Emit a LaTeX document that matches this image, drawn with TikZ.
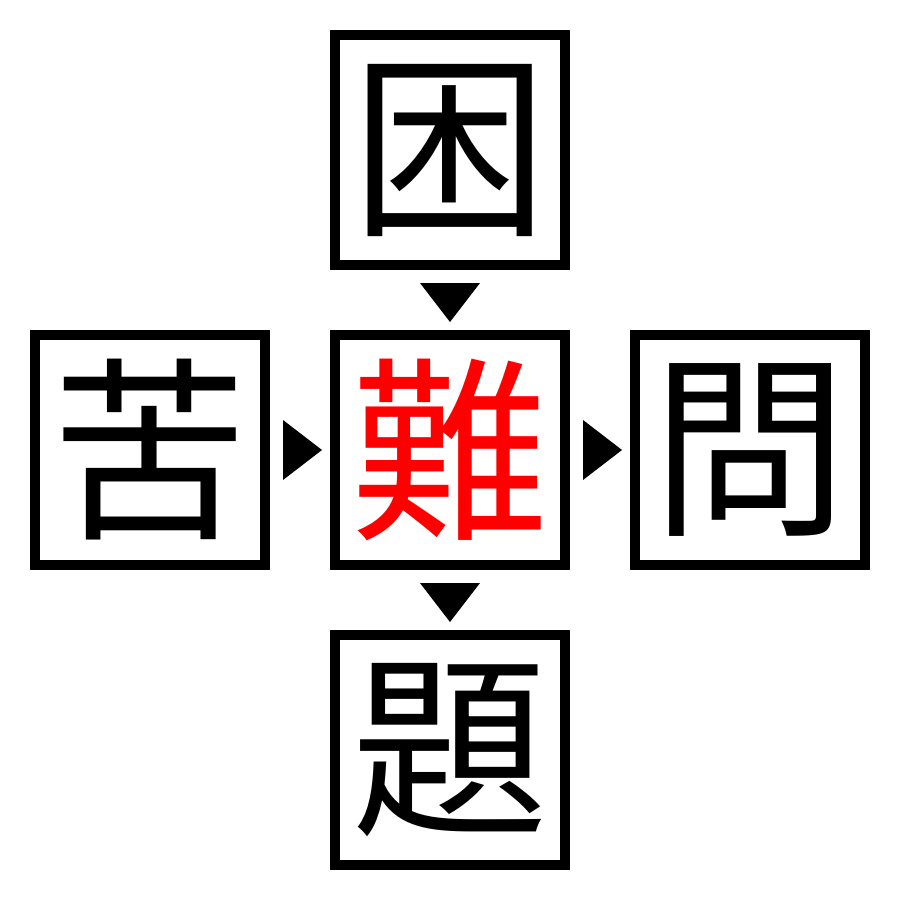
\documentclass[tikz,border=0pt]{standalone}
\usepackage{fontspec}
\newfontfamily\cjk{Noto Sans CJK JP}
\begin{document}
\begin{tikzpicture}[x=0.01cm,y=-0.01cm,
  kbox/.style={draw=black,line width=0.1cm,minimum size=2.3cm,inner sep=0pt,fill=white,font=\cjk\fontsize{56}{56}\selectfont},
  tri/.style={fill=black}]
\useasboundingbox (0,0) rectangle (900,900);
\fill[white] (0,0) rectangle (900,900);
\node[kbox] (top) at (450,150) {困};
\node[kbox] (left) at (150,450) {苦};
\node[kbox,text=red] (c) at (450,450) {難};
\node[kbox] (right) at (750,450) {問};
\node[kbox] (bot) at (450,750) {題};
\fill[tri] (420,283) -- (480,283) -- (450,322) -- cycle;
\fill[tri] (420,583) -- (480,583) -- (450,622) -- cycle;
\fill[tri] (283,420) -- (283,480) -- (322,450) -- cycle;
\fill[tri] (583,420) -- (583,480) -- (622,450) -- cycle;
\end{tikzpicture}
\end{document}
